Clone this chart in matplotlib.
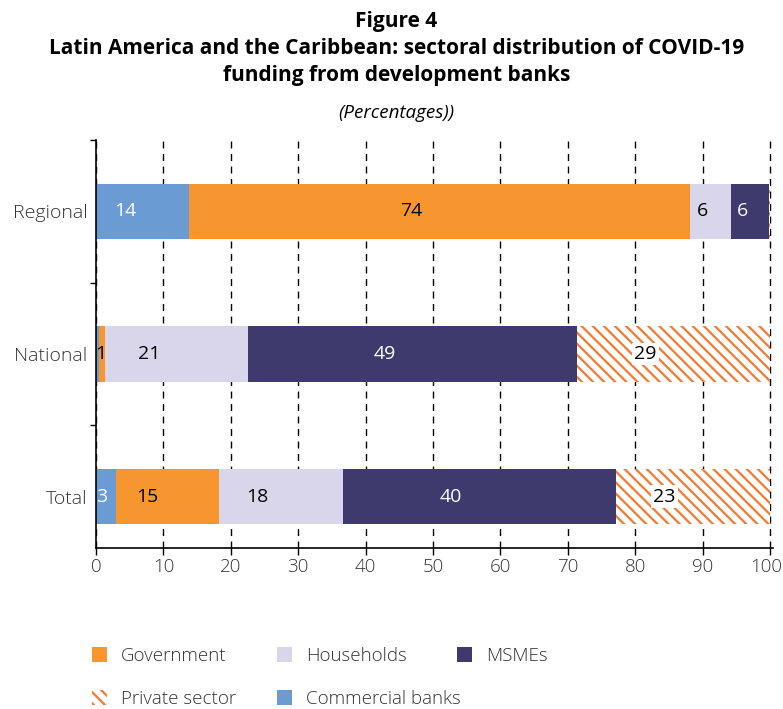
import numpy as np
import matplotlib
matplotlib.use('Agg')
import matplotlib.pyplot as plt
import matplotlib.transforms as mtransforms
from matplotlib.patches import Patch

plt.rcParams['font.family'] = ['Open Sans', 'DejaVu Sans']
plt.rcParams['hatch.linewidth'] = 1.6

# data (percentages)
categories = ['Regional', 'National', 'Total']
commercial = [13.8, 0.4, 2.9]
government = [74.4, 0.9, 15.4]
households = [6.0, 21.3, 18.4]
msmes = [5.7, 48.8, 40.4]
private = [0.1, 28.6, 22.9]
xticks = [0, 10, 20, 30, 40, 50, 60, 70, 80, 90, 100]

series = [
    ('Commercial banks', commercial, '#6A9BD3', None, 'white'),
    ('Government', government, '#F7962E', None, 'black'),
    ('Households', households, '#D9D5EA', None, 'black'),
    ('MSMEs', msmes, '#3E3A6E', None, 'white'),
    ('Private sector', private, 'white', '\\\\\\', 'black'),
]

fig = plt.figure(figsize=(7.83, 7.09), dpi=100)
ax = fig.add_axes([0.1226, 0.2271, 0.865, 0.5754])

y = np.arange(len(categories))
left = np.zeros(len(categories))
for name, vals, col, hatch, tcol in series:
    vals = np.array(vals)
    if hatch:
        ax.barh(y, vals, left=left, height=0.39, color=col, edgecolor='#F47A30',
                hatch=hatch, linewidth=0, zorder=2)
    else:
        ax.barh(y, vals, left=left, height=0.39, color=col, linewidth=0, zorder=2)
    for i, v in enumerate(vals):
        if v < 0.5:
            continue
        xpos = left[i] + v / 2 - min(4.2, 0.19 * v)
        kw = {}
        if hatch:
            kw['bbox'] = dict(facecolor='white', edgecolor='none', pad=1.5)
        ax.text(xpos, y[i], '%.0f' % v, ha='center', va='center', fontsize=14,
                color=tcol, zorder=3, **kw)
    left = left + vals

ax.set_xlim(0, 100.5)
ax.set_ylim(2.36, -0.5)
ax.set_yticks(y)
ax.set_yticklabels(categories, fontsize=14, fontweight='light', color='#333333')
ax.set_yticks([-0.5, 0.5, 1.5], minor=True)
ax.tick_params(axis='y', which='major', length=0, pad=6)
ax.tick_params(axis='y', which='minor', length=4, width=1, color='black')
ax.set_xticks(xticks)
ax.set_xticklabels([str(t) for t in xticks], fontsize=13.5, fontweight='light', color='#333333')
ax.tick_params(axis='x', length=5, width=1, color='black', pad=2)
# nudge the "100" label left so it stays inside the figure
last = ax.get_xticklabels()[-1]
last.set_transform(last.get_transform() + mtransforms.ScaledTranslation(-4 / 100, 0, fig.dpi_scale_trans))
ax.xaxis.grid(True, linestyle=(0, (5, 4)), color='black', linewidth=1, zorder=0)
ax.set_axisbelow(True)
for s in ['top', 'right']:
    ax.spines[s].set_visible(False)
ax.spines['left'].set_linewidth(1.2)
ax.spines['bottom'].set_linewidth(1.2)

fig.text(0.506, 0.970, 'Figure 4', ha='center', va='center', fontsize=15, fontweight='bold')
fig.text(0.506, 0.932, 'Latin America and the Caribbean: sectoral distribution of COVID-19',
         ha='center', va='center', fontsize=15, fontweight='bold')
fig.text(0.506, 0.893, 'funding from development banks', ha='center', va='center',
         fontsize=15, fontweight='bold')
fig.text(0.506, 0.840, '(Percentages))', ha='center', va='center', fontsize=13.5, style='italic')

# legend, one entry per slot
legend_items = [
    ('Government', dict(facecolor='#F7962E'), 92, 656),
    ('Households', dict(facecolor='#D9D5EA'), 277, 656),
    ('MSMEs', dict(facecolor='#3E3A6E'), 457, 656),
    ('Private sector', dict(facecolor='white', edgecolor='#F47A30', hatch='\\\\\\', linewidth=0), 92, 699),
    ('Commercial banks', dict(facecolor='#6A9BD3'), 277, 699),
]
for label, props, px, py in legend_items:
    h = Patch(label=label, **props)
    leg = fig.legend(handles=[h], loc='center left', bbox_to_anchor=(px / 783, 1 - py / 709),
                     frameon=False, fontsize=13.5, handlelength=0.8, handleheight=0.8,
                     handletextpad=0.75, borderpad=0, borderaxespad=0, labelcolor='#333333')
    for t in leg.get_texts():
        t.set_fontweight('light')

fig.savefig('out.png', dpi=100)
